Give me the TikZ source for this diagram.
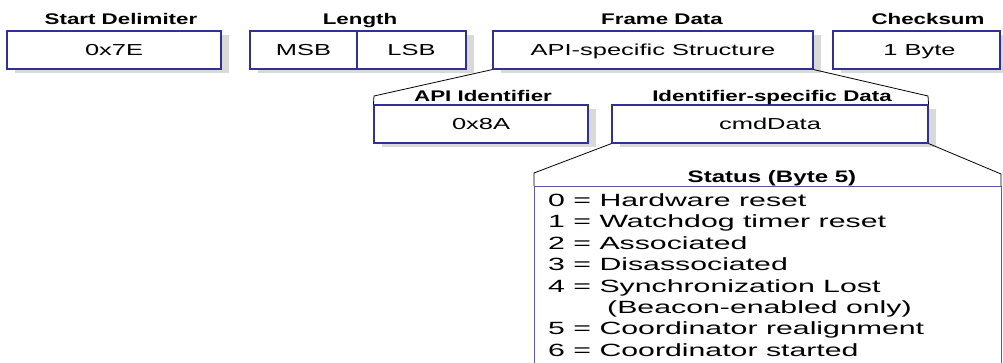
\documentclass[tikz,border=0pt]{standalone}
\usepackage{fontspec}
\newfontfamily\boxfont[FakeStretch=1.6]{Liberation Sans}
\newfontfamily\titlefont[FakeStretch=1.45]{Liberation Sans}
\newfontfamily\listfont[FakeStretch=1.71]{Liberation Sans}
\usetikzlibrary{shadows}
\definecolor{boxblue}{RGB}{48,48,150}
\definecolor{shadowgray}{RGB}{217,217,217}
\tikzset{
  fieldbox/.style={draw=boxblue, line width=1.1pt, fill=white, inner sep=0pt,
    minimum height=38pt, text height=11.4pt, text depth=0pt,
    font=\boxfont\fontsize{15.9}{18}\selectfont,
    drop shadow={shadow xshift=8pt, shadow yshift=-4pt, fill=shadowgray, opacity=1}},
  fieldtitle/.style={anchor=base, inner sep=0pt, font=\titlefont\bfseries\fontsize{15.4}{18}\selectfont},
  listitem/.style={anchor=base west, inner sep=0pt, font=\listfont\fontsize{17.7}{21}\selectfont},
  bracket/.style={draw=black, line width=0.8pt},
  statusline/.style={draw=boxblue!80, line width=1pt}
}
\begin{document}
\begin{tikzpicture}[x=1pt,y=-1pt]
\useasboundingbox (0,0) rectangle (1003,362);
\clip (0,0) rectangle (1003,362);
\fill[white] (0,0) rectangle (1003,362);

% Row 1
\node[fieldbox, minimum width=214pt] (sd) at (114,50) {0x7E};
\node[fieldbox, minimum width=107pt] (msb) at (303.5,50) {MSB};
\node[fieldbox, minimum width=109pt] (lsb) at (411.5,50) {LSB};
\node[fieldbox, minimum width=320pt] (fd) at (653,50) {API-specific Structure};
\node[fieldbox, minimum width=167pt] (cs) at (916.5,50) {\hspace*{6pt}1 Byte};

\node[fieldtitle] (tsd) at (121,24) {Start Delimiter};
\node[fieldtitle] (tlen) at (360,24) {Length};
\node[fieldtitle] (tfd) at (662,24) {Frame Data};
\node[fieldtitle] (tcs) at (928,24) {Checksum};

% Row 2
\node[fieldbox, minimum width=214pt] (api) at (481,124) {0x8A};
\node[fieldbox, minimum width=316pt] (idd) at (770,124) {cmdData};
\node[fieldtitle] (tapi) at (483,101) {API Identifier};
\node[fieldtitle] (tidd) at (772,101) {Identifier-specific Data};

% Brackets from Frame Data
\coordinate (bl1) at (374,96);
\coordinate (br1) at (928,96);
\draw[bracket] (fd.south west) -- (bl1) -- (api.north west);
\draw[bracket] (fd.south east) -- (br1) -- (idd.north east);

% Status box
\coordinate (stnw) at (534,186);
\coordinate (stne) at (1001,186);
\coordinate (stsw) at (534,365);
\coordinate (stse) at (1001,365);
\coordinate (bl2) at (534,173);
\coordinate (br2) at (1001,174);
\draw[statusline] (stsw) -- (stnw) -- (stne) -- (stse);
\draw[bracket] (idd.south west) -- (bl2) -- (stnw);
\draw[bracket] (idd.south east) -- (br2) -- (stne);

\node[anchor=base, inner sep=0pt, font=\titlefont\bfseries\fontsize{16.6}{19}\selectfont] (tst) at (772,182) {Status (Byte 5)};

\node[listitem] (s0) at (548,206.4) {0 = Hardware reset};
\node[listitem] (s1) at (548,227.8) {1 = Watchdog timer reset};
\node[listitem] (s2) at (548,249.2) {2 = Associated};
\node[listitem] (s3) at (548,270.6) {3 = Disassociated};
\node[listitem] (s4) at (548,292.0) {4 = Synchronization Lost};
\node[listitem] (s4b) at (607,313.4) {(Beacon-enabled only)};
\node[listitem] (s5) at (548,334.8) {5 = Coordinator realignment};
\node[listitem] (s6) at (548,356.2) {6 = Coordinator started};
\end{tikzpicture}
\end{document}
